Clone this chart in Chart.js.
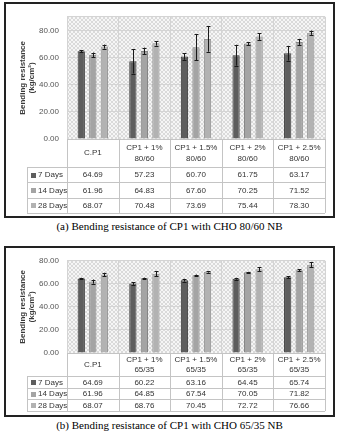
<!DOCTYPE html>
<html lang="en">
<head>
<meta charset="UTF-8">
<title>Bending resistance of CP1 with CHO</title>
<script src="https://cdn.jsdelivr.net/npm/chart.js"></script>
<style>
  body {
    margin: 0;
    background: #fff;
    width: 339px;
    height: 432px;
    position: relative;
    overflow: hidden;
    font-family: "Liberation Sans", Arial, sans-serif;
  }
  .frame {
    position: absolute;
    left: 4px;
    width: 327px;
    border: 2px solid #222;
  }
  #frameA { top: 2px; height: 212px; }
  #frameB { top: 246px; height: 167px; }
  .frame canvas { display: block; }
  .caption {
    position: absolute;
    left: 0;
    width: 339px;
    text-align: center;
    font-family: "Liberation Serif", "Times New Roman", serif;
    font-size: 11px;
    line-height: 13px;
    color: #000;
  }
  #capA { top: 220px; }
  #capB { top: 419px; }
</style>
</head>
<body>

<div class="frame" id="frameA"><canvas id="chartA" width="327" height="212"></canvas></div>
<div class="caption" id="capA">(a) Bending resistance of CP1 with CHO 80/60 NB</div>

<div class="frame" id="frameB"><canvas id="chartB" width="327" height="167"></canvas></div>
<div class="caption" id="capB">(b) Bending resistance of CP1 with CHO 65/35 NB</div>

<script>
  // series
  const seriesNames = ["7 Days", "14 Days", "28 Days"];
  const seriesColors = ["#5e5e5e", "#a4a4a4", "#b2b2b2"];
  const seriesBorders = ["#3c3c3c", "#848484", "#939393"];

  // chart (a) CHO 80/60
  const categoriesA = [["C.P1"], ["CP1 + 1%", "80/60"], ["CP1 + 1.5%", "80/60"], ["CP1 + 2%", "80/60"], ["CP1 + 2.5%", "80/60"]];
  const days7A = [64.69, 57.23, 60.70, 61.75, 63.17];
  const days14A = [61.96, 64.83, 67.60, 70.25, 71.52];
  const days28A = [68.07, 70.48, 73.69, 75.44, 78.30];
  const err7A = [0.9, 9.0, 2.3, 7.7, 5.4];
  const err14A = [1.7, 2.5, 9.6, 1.0, 2.2];
  const err28A = [1.5, 1.7, 9.4, 2.4, 1.6];
  const yTicksA = [0, 20, 40, 60, 80];
  const yMaxA = 90;

  // chart (b) CHO 65/35
  const categoriesB = [["C.P1"], ["CP1 + 1%", "65/35"], ["CP1 + 1.5%", "65/35"], ["CP1 + 2%", "65/35"], ["CP1 + 2.5%", "65/35"]];
  const days7B = [64.69, 60.22, 63.16, 64.45, 65.74];
  const days14B = [61.96, 64.85, 67.54, 70.05, 71.82];
  const days28B = [68.07, 68.76, 70.45, 72.72, 76.66];
  const err7B = [0.6, 1.1, 1.2, 0.8, 0.8];
  const err14B = [1.8, 0.5, 0.5, 0.4, 1.0];
  const err28B = [1.6, 2.0, 0.7, 1.8, 2.0];
  const yTicksB = [0, 20, 40, 60, 80];
  const yMaxB = 80;

  const FONT = '"Liberation Sans", Arial, sans-serif';

  // hatched plot background tile
  const tile = document.createElement("canvas");
  tile.width = 4;
  tile.height = 4;
  const tg = tile.getContext("2d");
  tg.fillStyle = "#f6f6f6";
  tg.fillRect(0, 0, 4, 4);
  tg.fillStyle = "#dadada";
  for (let i = 0; i < 4; i++) {
    tg.fillRect(i, i, 1, 1);
    tg.fillRect(3 - i, i, 1, 1);
  }

  function hline(ctx, x1, x2, y) {
    ctx.beginPath();
    ctx.moveTo(x1, Math.round(y) + 0.5);
    ctx.lineTo(x2, Math.round(y) + 0.5);
    ctx.stroke();
  }
  function vline(ctx, x, y1, y2) {
    ctx.beginPath();
    ctx.moveTo(Math.round(x) + 0.5, y1);
    ctx.lineTo(Math.round(x) + 0.5, y2);
    ctx.stroke();
  }

  const tablePlugin = {
    id: "dataTable",
    beforeDraw(chart) {
      const { ctx, chartArea: a } = chart;
      ctx.save();
      ctx.fillStyle = ctx.createPattern(tile, "repeat");
      ctx.fillRect(a.left, a.top, a.right - a.left, a.bottom - a.top);
      ctx.restore();
    },
    afterDatasetsDraw(chart, args, opts) {
      const { ctx } = chart;
      const ys = chart.scales.y;
      ctx.save();
      ctx.strokeStyle = "#1a1a1a";
      ctx.lineWidth = 1;
      chart.data.datasets.forEach((ds, i) => {
        chart.getDatasetMeta(i).data.forEach((bar, j) => {
          const e = opts.errors[i][j];
          const x = Math.round(bar.x) + 0.5;
          const y1 = ys.getPixelForValue(ds.data[j] + e);
          const y2 = ys.getPixelForValue(ds.data[j] - e);
          ctx.beginPath();
          ctx.moveTo(x, y1); ctx.lineTo(x, y2);
          ctx.moveTo(x - 2, Math.round(y1) + 0.5); ctx.lineTo(x + 2, Math.round(y1) + 0.5);
          ctx.moveTo(x - 2, Math.round(y2) + 0.5); ctx.lineTo(x + 2, Math.round(y2) + 0.5);
          ctx.stroke();
        });
      });
      ctx.restore();
    },
    afterDraw(chart, args, opts) {
      const { ctx, chartArea: a } = chart;
      const xs = chart.scales.x;
      const n = chart.data.labels.length;
      const colW = (a.right - a.left) / n;
      const top = a.bottom;
      const rowsTop = top + opts.catRowH;
      const bottom = rowsTop + opts.rowH * 3;

      ctx.save();
      ctx.strokeStyle = "#c4c4c4";
      ctx.lineWidth = 1;
      hline(ctx, a.left, a.right, top);
      for (let r = 0; r <= 3; r++) hline(ctx, opts.keyLeft, a.right, rowsTop + r * opts.rowH);
      for (let i = 0; i <= n; i++) vline(ctx, xs.getPixelForValue(i) - colW / 2, top, bottom);
      vline(ctx, opts.keyLeft, rowsTop, bottom);

      ctx.fillStyle = "#333";
      ctx.font = "8px " + FONT;
      ctx.textAlign = "center";
      ctx.textBaseline = "middle";
      chart.data.labels.forEach((lines, i) => {
        const cx = xs.getPixelForValue(i);
        const cy = top + opts.catRowH / 2 - (lines.length - 1) * opts.lineH / 2;
        lines.forEach((t, k) => ctx.fillText(t, cx, cy + k * opts.lineH));
      });

      chart.data.datasets.forEach((ds, r) => {
        const cy = rowsTop + opts.rowH * (r + 0.5);
        ctx.fillStyle = ds.backgroundColor;
        ctx.fillRect(opts.keyLeft + 4, Math.round(cy) - 2, 5, 5);
        ctx.fillStyle = "#333";
        ctx.textAlign = "left";
        ctx.fillText(ds.label, opts.keyLeft + 11, cy + 0.5);
        ctx.textAlign = "center";
        ds.data.forEach((v, j) => ctx.fillText(v.toFixed(2), xs.getPixelForValue(j), cy + 0.5));
      });
      ctx.restore();
    }
  };

  function makeChart(id, categories, series, errors, yTicks, yMax, pad, table) {
    const ctx = document.getElementById(id).getContext("2d");
    return new Chart(ctx, {
      type: "bar",
      data: {
        labels: categories,
        datasets: series.map((d, i) => ({
          label: seriesNames[i],
          data: d,
          backgroundColor: seriesColors[i],
          borderColor: seriesBorders[i],
          borderWidth: 1,
          categoryPercentage: 0.67,
          barPercentage: 0.63
        }))
      },
      options: {
        responsive: false,
        animation: false,
        layout: { padding: pad },
        plugins: {
          legend: { display: false },
          tooltip: { enabled: false },
          dataTable: Object.assign({ errors: errors }, table)
        },
        scales: {
          x: {
            offset: true,
            grid: { offset: true, color: "#d4d4d4", drawTicks: false },
            ticks: { display: false },
            border: { display: false }
          },
          y: {
            min: 0,
            max: yMax,
            afterBuildTicks: s => {
              const vals = yTicks.slice();
              if (yMax > vals[vals.length - 1]) vals.push(yMax);
              s.ticks = vals.map(v => ({ value: v }));
            },
            afterFit: s => { s.width = 61; },
            ticks: {
              padding: 8,
              color: "#555",
              font: { size: 8, family: FONT },
              callback: v => yTicks.includes(v) ? v.toFixed(2) : ""
            },
            grid: { color: "#d4d4d4", drawTicks: false },
            border: { display: false },
            title: {
              display: true,
              text: ["Bending resistance", "(kg/cm\u00B2)"],
              color: "#3a3a3a",
              font: { size: 8, weight: "bold", family: FONT, lineHeight: 1.15 },
              padding: { top: 12, bottom: 0 }
            }
          }
        }
      },
      plugins: [tablePlugin]
    });
  }

  makeChart("chartA", categoriesA, [days7A, days14A, days28A], [err7A, err14A, err28A],
    yTicksA, yMaxA, { top: 10, right: 8, bottom: 77, left: 0 },
    { catRowH: 28, rowH: 15.3, lineH: 11, keyLeft: 21 });

  makeChart("chartB", categoriesB, [days7B, days14B, days28B], [err7B, err14B, err28B],
    yTicksB, yMaxB, { top: 7, right: 8, bottom: 62, left: 0 },
    { catRowH: 23, rowH: 11.7, lineH: 10, keyLeft: 21 });
</script>

</body>
</html>
